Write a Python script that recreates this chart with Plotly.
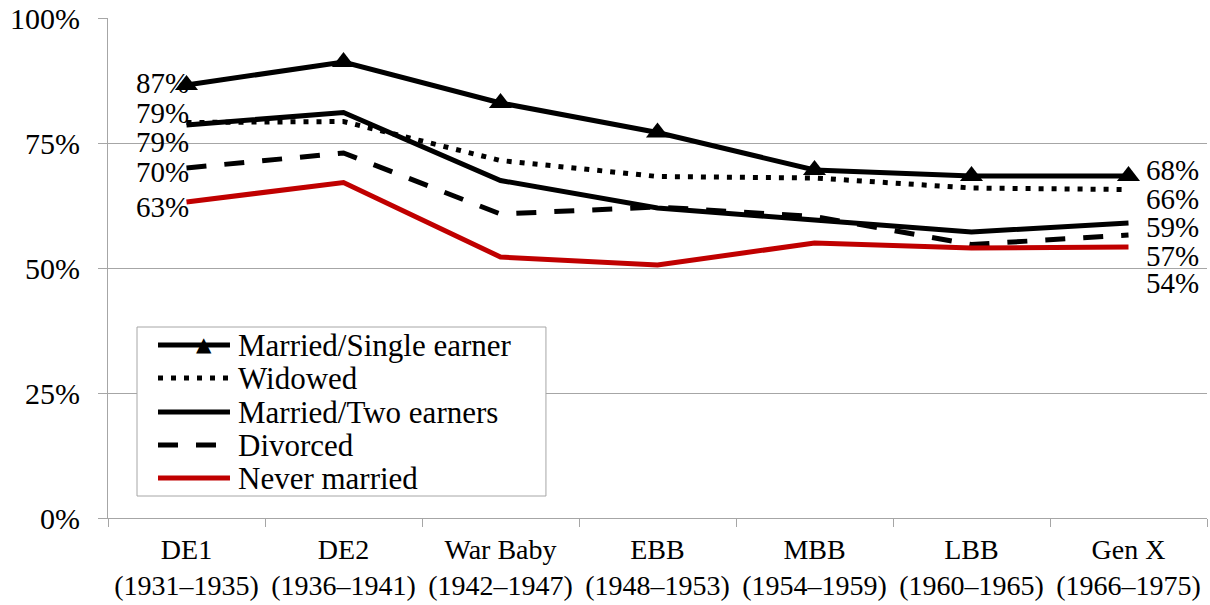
import plotly.graph_objects as go

# Cohorts on the x-axis (two-line tick labels)
cohorts = ["DE1", "DE2", "War Baby", "EBB", "MBB", "LBB", "Gen X"]
cohort_years = ["(1931–1935)", "(1936–1941)", "(1942–1947)", "(1948–1953)",
                "(1954–1959)", "(1960–1965)", "(1966–1975)"]

series_names = ["Married/Single earner", "Widowed", "Married/Two earners",
                "Divorced", "Never married"]

married_single = [86.6, 91.2, 83.0, 77.1, 69.6, 68.4, 68.4]
widowed = [79.1, 79.3, 71.5, 68.3, 68.0, 66.0, 65.7]
married_two = [78.6, 81.1, 67.5, 62.0, 59.6, 57.2, 59.0]
divorced = [70.0, 73.0, 60.8, 62.2, 60.3, 54.7, 56.6]
never_married = [63.2, 67.1, 52.2, 50.6, 55.0, 54.0, 54.2]

y_ticks = [0, 25, 50, 75, 100]

series_values = [married_single, widowed, married_two, divorced, never_married]

_BLACK = "#000000"
_RED = "#C00000"
_GRID = "#A6A6A6"
_FONT = "Liberation Serif, Times New Roman, serif"

styles = [
    dict(color=_BLACK, dash="solid", marker=True),
    dict(color=_BLACK, dash="5px,8px", marker=False),
    dict(color=_BLACK, dash="solid", marker=False),
    dict(color=_BLACK, dash="20px,18px", marker=False),
    dict(color=_RED, dash="solid", marker=False),
]

# end-label pixel nudges (first cohort on the left, last cohort on the right)
left_yshift = [2, 10, -17, -4, -5]
right_yshift = [6, -9, -4, -21, -36]

x_labels = [f"{c}<br>{y}" for c, y in zip(cohorts, cohort_years)]

fig = go.Figure()

for name, vals, st in zip(series_names, series_values, styles):
    fig.add_trace(go.Scatter(
        x=x_labels,
        y=vals,
        name=name,
        mode="lines+markers" if st["marker"] else "lines",
        line=dict(color=st["color"], width=5, dash=st["dash"]),
        marker=dict(symbol="triangle-up", size=20, color=st["color"]),
        showlegend=False,
        hoverinfo="skip",
    ))

# data labels at both ends of each line (tight boxes: labels sit close together)
for vals, ly, ry in zip(series_values, left_yshift, right_yshift):
    fig.add_annotation(
        x=x_labels[0], y=vals[0], text=f"{vals[0]:.0f}%",
        showarrow=False, xanchor="right", yanchor="middle",
        xshift=3, yshift=ly, height=26, borderpad=0,
        font=dict(family=_FONT, size=29, color="#000000"),
    )
    fig.add_annotation(
        x=x_labels[-1], y=vals[-1], text=f"{vals[-1]:.0f}%",
        showarrow=False, xanchor="left", yanchor="middle",
        xshift=16, yshift=ry, height=26, borderpad=0,
        font=dict(family=_FONT, size=29, color="#000000"),
    )

# Legend box drawn by hand (Excel-style: long samples, tight rows)
leg_x0, leg_x1 = 0.0264, 0.3985
leg_y0, leg_y1 = 0.044, 0.382
row_y = [0.346, 0.280, 0.212, 0.146, 0.080]
fig.add_shape(type="rect", xref="paper", yref="paper",
              x0=leg_x0, x1=leg_x1, y0=leg_y0, y1=leg_y1,
              fillcolor="white", line=dict(color=_GRID, width=1), layer="above")
for name, st, ry in zip(series_names, styles, row_y):
    fig.add_shape(type="line", xref="paper", yref="paper",
                  x0=0.0455, x1=0.111, y0=ry, y1=ry,
                  line=dict(color=st["color"], width=5, dash=st["dash"]),
                  layer="above")
    if st["marker"]:
        fig.add_annotation(xref="paper", yref="paper", x=0.078, y=ry,
                           text="▲", showarrow=False, yshift=1,
                           font=dict(family="DejaVu Sans", size=20, color=st["color"]))
    fig.add_annotation(xref="paper", yref="paper", x=0.1165, y=ry,
                       text=name, showarrow=False, xanchor="left", yanchor="middle",
                       font=dict(family=_FONT, size=31, color="#000000"))

fig.update_layout(
    width=1210, height=605,
    paper_bgcolor="white", plot_bgcolor="white",
    margin=dict(l=108, r=3, t=18, b=87),
    font=dict(family=_FONT, size=29, color="#000000"),
    showlegend=False,
)
fig.update_xaxes(
    type="category",
    automargin=False,
    showgrid=False,
    showline=True, linecolor=_GRID, linewidth=1,
    ticks="outside", tickson="boundaries", ticklen=8, tickcolor=_GRID,
    ticklabelstandoff=6,
    tickfont=dict(family=_FONT, size=28),
    range=[-0.5, 6.5],
)
fig.update_yaxes(
    automargin=False,
    range=[0, 100],
    tickvals=y_ticks,
    ticktext=[f"{v}%" for v in y_ticks],
    showgrid=True, gridcolor=_GRID, gridwidth=1,
    showline=True, linecolor=_GRID, linewidth=1,
    ticks="outside", ticklen=9, tickcolor=_GRID,
    ticklabelstandoff=12,
    tickfont=dict(family=_FONT, size=30),
    zeroline=False,
)

# the page's default 8px body margin would push the fixed-size figure off-window
fig.write_html("out.html", config={"displayModeBar": False},
               post_script="document.body.style.margin='0';")
